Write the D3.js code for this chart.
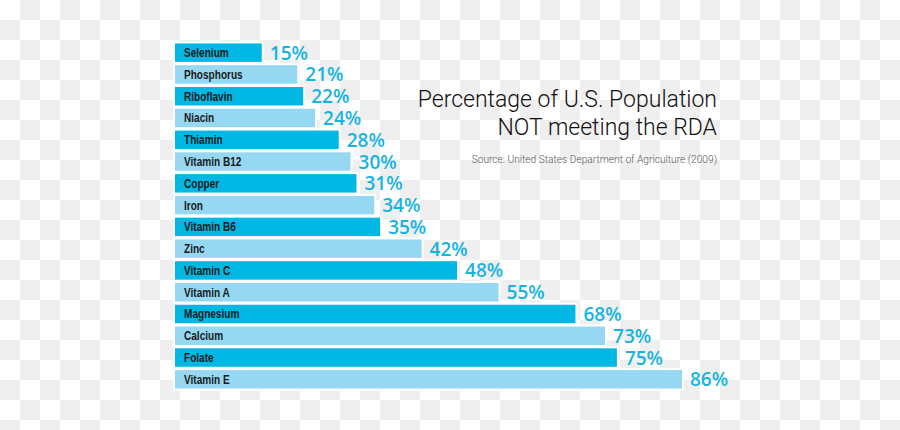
<!DOCTYPE html>
<html>
<head>
<meta charset="utf-8">
<script src="https://cdn.jsdelivr.net/npm/d3@7"></script>
<style>
  html, body { margin: 0; padding: 0; background: #fff; }
  svg { display: block; }
</style>
</head>
<body>
<svg id="chart" width="900" height="430"></svg>
<script>
const nutrients = ["Selenium", "Phosphorus", "Riboflavin", "Niacin", "Thiamin", "Vitamin B12",
  "Copper", "Iron", "Vitamin B6", "Zinc", "Vitamin C", "Vitamin A", "Magnesium", "Calcium",
  "Folate", "Vitamin E"];
const percentNotMeeting = [15, 21, 22, 24, 28, 30, 31, 34, 35, 42, 48, 55, 68, 73, 75, 86];
const titleLines = ["Percentage of U.S. Population", "NOT meeting the RDA"];
const sourceText = "Source: United States Department of Agriculture (2009)";

const data = nutrients.map((n, i) => ({ name: n, value: percentNotMeeting[i], i }));

const svg = d3.select("#chart");
const W = 900, H = 430;

// checkerboard background
const defs = svg.append("defs");
const pat = defs.append("pattern").attr("id", "checker")
  .attr("width", 40).attr("height", 40).attr("patternUnits", "userSpaceOnUse");
pat.append("rect").attr("width", 40).attr("height", 40).attr("fill", "#ffffff");
pat.append("rect").attr("x", 20).attr("y", 0).attr("width", 20).attr("height", 20).attr("fill", "#efefef");
pat.append("rect").attr("x", 0).attr("y", 20).attr("width", 20).attr("height", 20).attr("fill", "#efefef");
svg.append("rect").attr("width", W).attr("height", H).attr("fill", "url(#checker)");

const x = d3.scaleLinear().domain([0, 86]).range([174, 683]);
const y = d3.scaleBand().domain(nutrients).range([42, 390]).paddingInner(0.06).paddingOuter(0.02);

const dark = "#00b8e3", light = "#96d8f1";

const g = svg.append("g");
const rows = g.selectAll("g.row").data(data).join("g").attr("class", "row");

rows.append("rect")
  .attr("x", x(0))
  .attr("y", d => y(d.name))
  .attr("width", d => x(d.value) - x(0))
  .attr("height", y.bandwidth())
  .attr("fill", d => d.i % 2 === 0 ? dark : light)
  .attr("stroke", "#ffffff")
  .attr("stroke-width", 2);

rows.append("text")
  .attr("transform", d => `translate(${x(0) + 10},${y(d.name) + y.bandwidth() / 2 + 4.4}) scale(0.8,1)`)
  .attr("font-family", "'Liberation Sans', Arial, sans-serif")
  .attr("font-weight", "bold")
  .attr("font-size", 12.6)
  .attr("fill", "#1a1a1a")
  .text(d => d.name);

rows.append("text")
  .attr("x", d => x(d.value) + 7)
  .attr("y", d => y(d.name) + y.bandwidth() / 2 + 7)
  .attr("font-family", "'Open Sans', Lato, sans-serif")
  .attr("font-weight", 600)
  .attr("font-size", 19)
  .attr("fill", "#17b4e2")
  .text(d => d.value + "%");

// title
svg.selectAll("text.title").data(titleLines).join("text")
  .attr("class", "title")
  .attr("x", 717)
  .attr("y", (d, i) => 107 + i * 28)
  .attr("text-anchor", "end")
  .attr("font-family", "Roboto, 'Liberation Sans', sans-serif")
  .attr("font-weight", 300)
  .attr("font-size", 23)
  .attr("fill", "#111")
  .text(d => d);

svg.append("text")
  .attr("x", 717)
  .attr("y", 163)
  .attr("text-anchor", "end")
  .attr("font-family", "Roboto, 'Liberation Sans', sans-serif")
  .attr("font-weight", 300)
  .attr("font-size", 10.2)
  .attr("fill", "#5a5a5a")
  .text(sourceText);
</script>
</body>
</html>
